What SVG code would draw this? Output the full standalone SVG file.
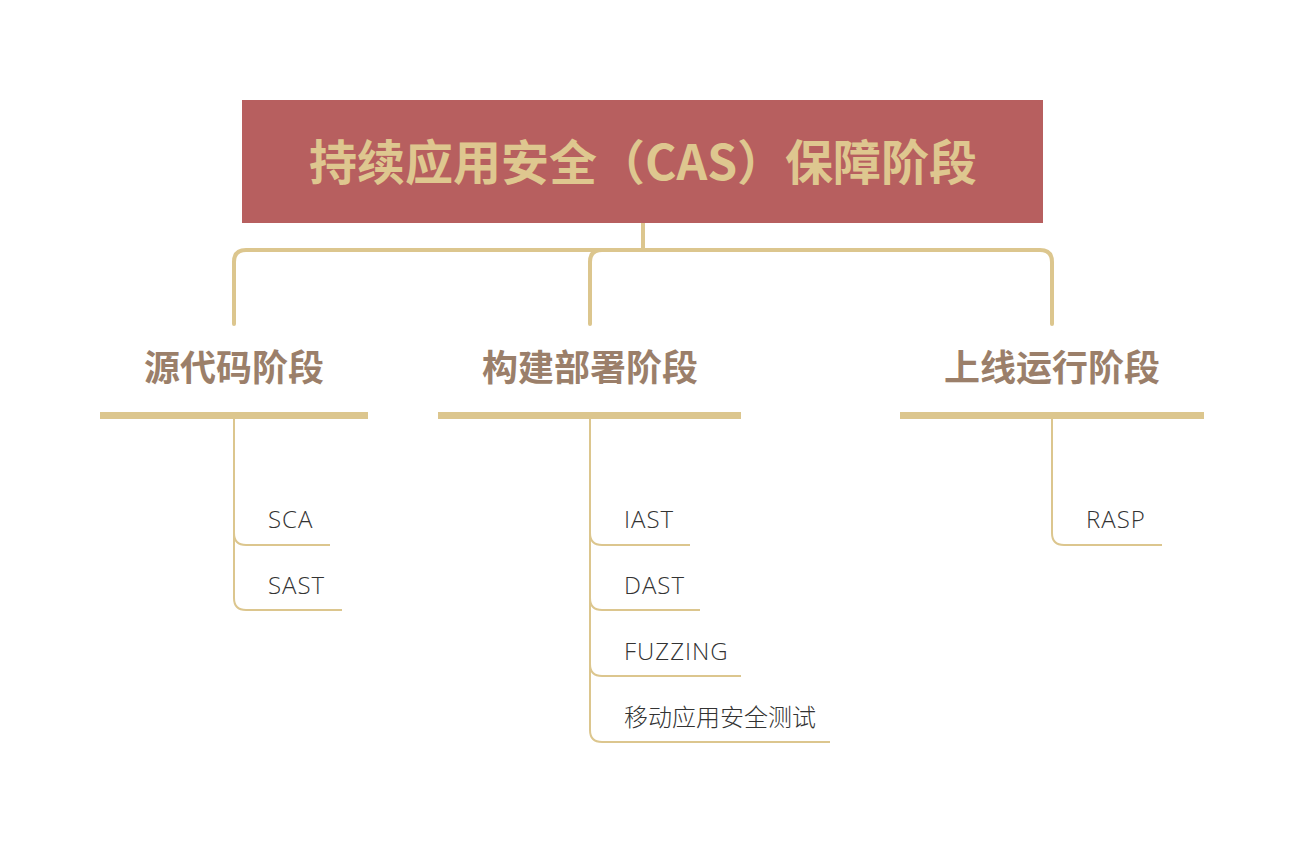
<svg xmlns="http://www.w3.org/2000/svg" width="1304" height="844" viewBox="0 0 1304 844">
<style>
.root{fill:#b75f5f}
.rt{font-family:"Noto Sans CJK SC","Noto Sans",sans-serif;font-weight:700;font-size:48px;fill:#dec78f;text-anchor:middle}
.br{font-family:"Noto Sans CJK SC","Noto Sans",sans-serif;font-weight:700;font-size:36px;fill:#9b7f6a;text-anchor:middle}
.bar{fill:#dcc68e}
.lf{font-family:"Open Sans","Noto Sans CJK SC",sans-serif;font-weight:300;font-size:24px;fill:#333;letter-spacing:1px}
.cj{font-family:"Noto Sans CJK SC",sans-serif;font-weight:300;font-size:24px;fill:#333}
.c1{fill:none;stroke:#dcc68e;stroke-width:4;stroke-linecap:round}
.c2{fill:none;stroke:#dcc68e;stroke-width:2}
</style>
<rect width="1304" height="844" fill="#fff"/>
<g id="connectors">
<path class="c1" d="M643 223 V250 M234 324 V262 Q234 250 246 250 H1040 Q1052 250 1052 262 V324 M590 324 V262 Q590 250 602 250"/>
<path class="c2" d="M234 419 V533 Q234 545 246 545 H330 M234 533 V598 Q234 610 246 610 H342"/>
<path class="c2" d="M590 419 V533 Q590 545 602 545 H690 M590 533 V598 Q590 610 602 610 H700 M590 598 V664 Q590 676 602 676 H741 M590 664 V730 Q590 742 602 742 H830"/>
<path class="c2" d="M1052 419 V533 Q1052 545 1064 545 H1162"/>
</g>
<g id="root"><rect class="root" x="242" y="100" width="801" height="123"/><text class="rt" x="643" y="180">持续应用安全（CAS）保障阶段</text></g>
<g id="b1"><text class="br" x="234" y="381">源代码阶段</text><rect class="bar" x="100" y="412" width="268" height="7"/></g>
<g id="b2"><text class="br" x="590" y="381">构建部署阶段</text><rect class="bar" x="438" y="412" width="303" height="7"/></g>
<g id="b3"><text class="br" x="1052" y="381">上线运行阶段</text><rect class="bar" x="900" y="412" width="304" height="7"/></g>
<g id="sca"><text class="lf" x="268" y="528">SCA</text></g>
<g id="sast"><text class="lf" x="268" y="594">SAST</text></g>
<g id="iast"><text class="lf" x="624" y="528">IAST</text></g>
<g id="dast"><text class="lf" x="624" y="594">DAST</text></g>
<g id="fuzz"><text class="lf" x="624" y="660">FUZZING</text></g>
<g id="mob"><text class="cj" x="624" y="726">移动应用安全测试</text></g>
<g id="rasp"><text class="lf" x="1086" y="528">RASP</text></g>
</svg>
